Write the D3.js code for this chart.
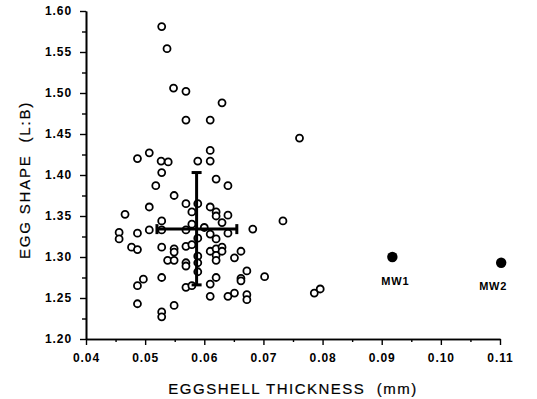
<!DOCTYPE html>
<html>
<head>
<meta charset="utf-8">
<script src="https://cdn.jsdelivr.net/npm/d3@7"></script>
<style>
  body { margin: 0; background: #fff; }
  svg text { font-family: "Liberation Sans", Arial, sans-serif; fill: #000; }
</style>
</head>
<body>
<div id="chart"></div>
<script>
// eggshell thickness (mm) vs egg shape (L:B), open circles
const thickness = [
  0.0528, 0.0537, 0.0548, 0.0569, 0.0630, 0.0569, 0.0610, 0.0761, 0.0507, 0.0487,
  0.0610, 0.0527, 0.0539, 0.0589, 0.0610, 0.0528, 0.0620, 0.0518, 0.0640, 0.0549,
  0.0507, 0.0569, 0.0589, 0.0610, 0.0466, 0.0579, 0.0620, 0.0620, 0.0640, 0.0528,
  0.0630, 0.0733, 0.0579, 0.0507, 0.0528, 0.0569, 0.0600, 0.0610, 0.0640, 0.0682,
  0.0456, 0.0456, 0.0487, 0.0620, 0.0589, 0.0477, 0.0487, 0.0528, 0.0549, 0.0549,
  0.0569, 0.0579, 0.0610, 0.0620, 0.0630, 0.0620, 0.0630, 0.0662, 0.0651, 0.0538,
  0.0549, 0.0569, 0.0569, 0.0589, 0.0589, 0.0620, 0.0589, 0.0672, 0.0702, 0.0662,
  0.0662, 0.0620, 0.0497, 0.0487, 0.0528, 0.0569, 0.0579, 0.0610, 0.0610, 0.0640,
  0.0651, 0.0672, 0.0672, 0.0487, 0.0549, 0.0528, 0.0528, 0.0786, 0.0796
];
const shape = [
  1.581, 1.554, 1.506, 1.502, 1.488, 1.467, 1.467, 1.445, 1.427, 1.420,
  1.430, 1.417, 1.416, 1.417, 1.417, 1.403, 1.395, 1.387, 1.387, 1.375,
  1.361, 1.365, 1.365, 1.361, 1.352, 1.355, 1.355, 1.350, 1.351, 1.344,
  1.342, 1.344, 1.340, 1.333, 1.333, 1.333, 1.336, 1.328, 1.329, 1.334,
  1.330, 1.322, 1.329, 1.322, 1.323, 1.312, 1.309, 1.312, 1.310, 1.306,
  1.313, 1.315, 1.307, 1.310, 1.312, 1.302, 1.307, 1.307, 1.299, 1.296,
  1.296, 1.293, 1.289, 1.301, 1.293, 1.296, 1.282, 1.283, 1.276, 1.274,
  1.271, 1.275, 1.273, 1.265, 1.275, 1.263, 1.265, 1.267, 1.252, 1.252,
  1.256, 1.254, 1.248, 1.243, 1.241, 1.233, 1.227, 1.256, 1.261
];

// filled points with labels
const namedLabels = ["MW1", "MW2"];
const namedThickness = [0.0918, 0.1102];
const namedShape = [1.300, 1.293];

// mean and spread bars
const meanThickness = 0.0587;
const meanShape = 1.334;
const thicknessRange = [0.0520, 0.0655];
const shapeRange = [1.266, 1.403];

const xTicks = [0.04, 0.05, 0.06, 0.07, 0.08, 0.09, 0.10, 0.11];
const yTicks = [1.20, 1.25, 1.30, 1.35, 1.40, 1.45, 1.50, 1.55, 1.60];

const W = 537, H = 399;
const svg = d3.select("#chart").append("svg")
  .attr("width", W)
  .attr("height", H);

const x = d3.scaleLinear().domain([0.04, 0.11]).range([86, 500]);
const y = d3.scaleLinear().domain([1.20, 1.60]).range([339, 11]);

// axes
const xAxis = d3.axisBottom(x)
  .tickValues(xTicks)
  .tickFormat(d3.format(".2f"))
  .tickSizeInner(6).tickSizeOuter(0).tickPadding(4);
const xMinor = d3.axisBottom(x)
  .tickValues(d3.range(0.045, 0.11, 0.01))
  .tickFormat("").tickSizeInner(3).tickSizeOuter(0);

const yAxis = d3.axisLeft(y)
  .tickValues(yTicks)
  .tickFormat(d3.format(".2f"))
  .tickSizeInner(6).tickSizeOuter(0).tickPadding(8);
const yMinor = d3.axisLeft(y)
  .tickValues(d3.range(1.225, 1.6, 0.05))
  .tickFormat("").tickSizeInner(4).tickSizeOuter(0);

const gx = svg.append("g").attr("transform", "translate(0,339)").call(xAxis);
svg.append("g").attr("transform", "translate(0,339)").call(xMinor);
const gy = svg.append("g").attr("transform", "translate(86,0)").call(yAxis);
svg.append("g").attr("transform", "translate(86,0)").call(yMinor);

svg.selectAll(".domain").attr("stroke", "#000").attr("stroke-width", 1.6);
svg.selectAll(".tick line").attr("stroke", "#000").attr("stroke-width", 1.4);
svg.selectAll(".tick text")
  .style("font-size", "12px")
  .style("font-weight", "bold")
  .style("letter-spacing", "0.9px")
  .attr("fill", "#000");
gx.selectAll(".tick text").attr("dy", "1.05em");

// axis titles
svg.append("text")
  .attr("x", 293).attr("y", 394)
  .attr("text-anchor", "middle")
  .attr("stroke", "#000").attr("stroke-width", 0.2)
  .style("font-size", "15px")
  .style("letter-spacing", "1.5px")
  .style("white-space", "pre")
  .text("EGGSHELL THICKNESS  (mm)");

svg.append("text")
  .attr("transform", "translate(30,180) rotate(-90)")
  .attr("text-anchor", "middle")
  .attr("stroke", "#000").attr("stroke-width", 0.2)
  .style("font-size", "15px")
  .style("letter-spacing", "1.8px")
  .style("white-space", "pre")
  .text("EGG SHAPE  (L:B)");

// open circles
svg.append("g").selectAll("circle")
  .data(thickness.map((t, i) => ({t, s: shape[i]})))
  .enter().append("circle")
  .attr("cx", d => x(d.t))
  .attr("cy", d => y(d.s))
  .attr("r", 3.5)
  .attr("fill", "#fff")
  .attr("stroke", "#000")
  .attr("stroke-width", 1.8);

// mean cross with end caps
const bars = svg.append("g").attr("stroke", "#000").attr("stroke-width", 3);
bars.append("line")
  .attr("x1", x(meanThickness)).attr("x2", x(meanThickness))
  .attr("y1", y(shapeRange[0])).attr("y2", y(shapeRange[1]));
bars.append("line")
  .attr("x1", x(thicknessRange[0])).attr("x2", x(thicknessRange[1]))
  .attr("y1", y(meanShape)).attr("y2", y(meanShape));
shapeRange.forEach(v => {
  bars.append("line")
    .attr("x1", x(meanThickness) - 5).attr("x2", x(meanThickness) + 5)
    .attr("y1", y(v)).attr("y2", y(v));
});
thicknessRange.forEach(v => {
  bars.append("line")
    .attr("x1", x(v)).attr("x2", x(v))
    .attr("y1", y(meanShape) - 5).attr("y2", y(meanShape) + 5);
});

// MW1 / MW2
const named = namedLabels.map((n, i) => ({n, t: namedThickness[i], s: namedShape[i]}));
svg.append("g").selectAll("circle")
  .data(named)
  .enter().append("circle")
  .attr("cx", d => x(d.t))
  .attr("cy", d => y(d.s))
  .attr("r", 5.2)
  .attr("fill", "#000");

const labelShift = [[3, 28], [-8, 27]];
svg.append("g").selectAll("text")
  .data(named)
  .enter().append("text")
  .attr("x", (d, i) => x(d.t) + labelShift[i][0])
  .attr("y", (d, i) => y(d.s) + labelShift[i][1])
  .attr("text-anchor", "middle")
  .style("font-size", "11px")
  .style("font-weight", "bold")
  .style("letter-spacing", "0.8px")
  .text(d => d.n);
</script>
</body>
</html>
